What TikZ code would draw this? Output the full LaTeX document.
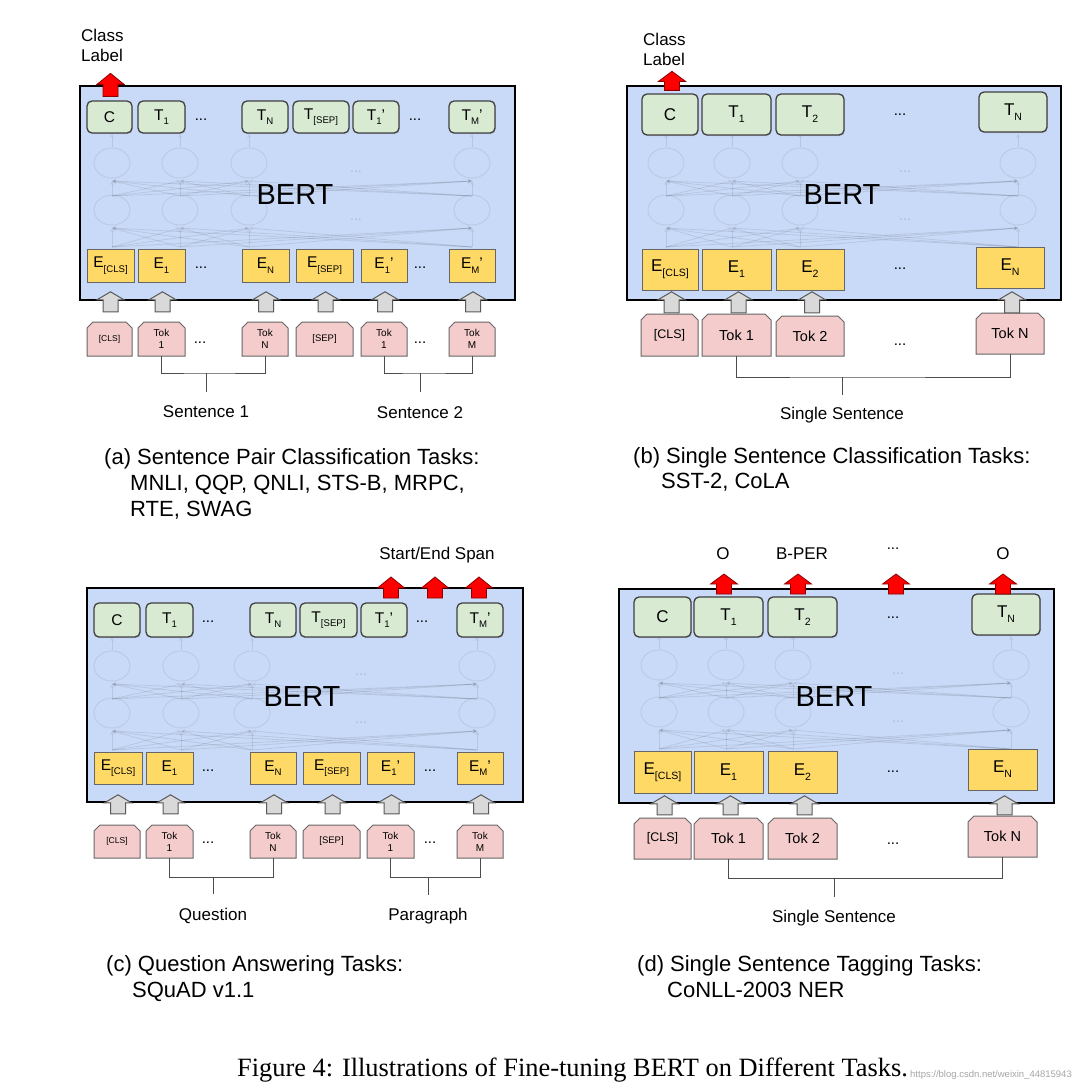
\documentclass[tikz,border=0pt]{standalone}
\usepackage{fontspec}
\setmainfont{Liberation Sans}
\newfontfamily\capfont{Liberation Serif}
\usetikzlibrary{calc,shadows}
\definecolor{bertblue}{HTML}{C9DAF8}
\definecolor{tgreen}{HTML}{D9EAD3}
\definecolor{eyellow}{HTML}{FFD966}
\definecolor{tpink}{HTML}{F4CCCC}
\definecolor{agray}{HTML}{D9D9D9}
\newcommand\fs[1]{\fontsize{#1}{#1}\selectfont}
\newcommand\fsb[2]{\fontsize{#1}{#2}\selectfont}
\newcommand\sbs[1]{\raisebox{-0.3em}{\scalebox{0.62}{#1}}}
% style, name, x1, y1, x2, y2, text
\newcommand\boxat[7]{\node[#1, minimum width={#5-#3}, minimum height={#6-#4}] (#2) at ({(#3+#5)/2},{(#4+#6)/2}) {#7};}
% [style], name, x1, y1, x2, y2, text
\newcommand\tokat[7][]{%
  \filldraw[tokline] (#3,#6) -- (#3,#4+6) -- (#3+6,#4) -- (#5-6,#4) -- (#5,#4+6) -- (#5,#6) -- cycle;
  \boxat{tokn,#1}{#2}{#3}{#4}{#5}{#6}{#7}}
% style, bottom-centre point (calc expr), length, head height
\newcommand\blockat[4]{\draw[#1] ($#2+(-7.5,0)$) -- ++(0,{-(#3-#4)}) -- ++(-6,0) -- ++(13.5,-#4) -- ++(13.5,#4) -- ++(-6,0) -- ++(0,{#3-#4}) -- cycle;}
% prefix, c1..c4, y offset, dots x
\newcommand\net[7]{%
  \begin{scope}[shift={(0,#6)}]
  \foreach \xa in {#2,#3,#4,#5}{
    \draw[netc] (\xa,163) ellipse [x radius=18, y radius=15];
    \draw[netc] (\xa,210) ellipse [x radius=18, y radius=15];
    \draw[netl] (\xa,147) -- (\xa,134);
    \foreach \xb in {#2,#3,#4,#5}{
      \draw[netl] (\xa,196) -- (\xb,181);
      \draw[netl] (\xa,247) -- (\xb,228);
    }
  }
  \node[netd] (#1-nd1) at (#7,172) {...};
  \node[netd] (#1-nd2) at (#7,220) {...};
  \end{scope}}
\tikzset{
  bertbox/.style={fill=bertblue, draw=black, line width=2.6, inner sep=0},
  tbox/.style={fill=tgreen, draw=black!75, line width=1.3, rounded corners=5, inner sep=0,
    drop shadow={shadow xshift=0.8pt, shadow yshift=-1.2pt, opacity=0.3}},
  ebox/.style={fill=eyellow, draw=black!60, line width=1, inner sep=0},
  tokline/.style={fill=tpink, draw=black!60, line width=1},
  tokn/.style={inner sep=0, align=center},
  garrow/.style={fill=agray, draw=black!65, line width=1},
  rarrow/.style={fill=red, draw=red!55!black, line width=0.8},
  netc/.style={draw=black, opacity=0.07, line width=1},
  netl/.style={draw=black, opacity=0.09, line width=0.8, -stealth},
  netd/.style={inner sep=0, text opacity=0.15, font=\fs{14}},
  brk/.style={draw=black!70, line width=1},
  lbl/.style={font=\fs{17}, inner sep=0},
  bert/.style={font=\fs{29}, inner sep=0},
  sm/.style={font=\fs{15.5}},
  md/.style={font=\fs{17}},
  dsm/.style={font=\fs{15}, inner sep=0},
  tka/.style={font=\fsb{10}{12}},
  tkb/.style={font=\fs{14.5}},
  captxt/.style={font=\fs{22}, inner sep=0, anchor=base west},
}
\begin{document}
\begin{tikzpicture}[x=1pt,y=-1pt]
\useasboundingbox (0,0) rectangle (1080,1092);
\path[fill=white] (0,0) rectangle (1080,1092);

%%%%%%%%%%%%%%%% (a)
\boxat{bertbox}{a-box}{80}{86}{515}{300}{}
\net{a}{112}{180}{249}{472}{0}{356}
\node[bert] (a-bert) at (295,195) {BERT};
\boxat{tbox,sm}{a-c}{87}{101}{132}{133}{C}
\boxat{tbox,sm}{a-t1}{138}{101}{185}{133}{T\sbs{1}}
\node[dsm] (a-td1) at (201,120) {...};
\boxat{tbox,sm}{a-tn}{242}{101}{288}{133}{T\sbs{N}}
\boxat{tbox,sm}{a-tsep}{293}{101}{349}{133}{T\sbs{[SEP]}}
\boxat{tbox,sm}{a-t1p}{353}{101}{399}{133}{T\sbs{1}'}
\node[dsm] (a-td2) at (415,120) {...};
\boxat{tbox,sm}{a-tm}{449}{101}{495}{133}{T\sbs{M}'}
\boxat{ebox,sm}{a-ecls}{87}{249}{134}{282}{E\sbs{[CLS]}}
\boxat{ebox,sm}{a-e1}{138}{249}{185}{282}{E\sbs{1}}
\node[dsm] (a-ed1) at (201,268) {...};
\boxat{ebox,sm}{a-en}{242}{249}{289}{282}{E\sbs{N}}
\boxat{ebox,sm}{a-esep}{296}{249}{353}{282}{E\sbs{[SEP]}}
\boxat{ebox,sm}{a-e1p}{361}{249}{407}{282}{E\sbs{1}'}
\node[dsm] (a-ed2) at (420,268) {...};
\boxat{ebox,sm}{a-em}{449}{249}{495}{282}{E\sbs{M}'}
\tokat[font=\fs{8.5}]{a-kcls}{87}{322}{132}{356}{[CLS]}
\tokat[tka]{a-k1}{138}{322}{185}{356}{Tok\\1}
\node[dsm] (a-kd1) at (200,343) {...};
\tokat[tka]{a-kn}{242}{322}{288}{356}{Tok\\N}
\tokat[font=\fs{9.5}]{a-ksep}{296}{322}{353}{356}{[SEP]}
\tokat[tka]{a-k1p}{361}{322}{407}{356}{Tok\\1}
\node[dsm] (a-kd2) at (420,343) {...};
\tokat[tka]{a-km}{449}{322}{495}{356}{Tok\\M}
\foreach \n in {kcls,k1,kn,ksep,k1p,km}{\blockat{garrow}{(a-\n.north)+(1,-10)}{20}{8}}
\blockat{rarrow}{(a-c.north)+(1,-4)}{23}{11}
\node[lbl, anchor=base west] (a-cl1) at (81,41.7) {Class};
\node[lbl, anchor=base west] (a-cl2) at (81,61) {Label};
\coordinate (a-b1) at (206,373);
\draw[brk] (a-k1.south) |- (a-b1) -| (a-kn.south);
\draw[brk] (a-b1) -- ++(0,19);
\node[lbl, anchor=base] (a-s1) at (206,417) {Sentence 1};
\coordinate (a-b2) at (420,373);
\draw[brk] (a-k1p.south) |- (a-b2) -| (a-km.south);
\draw[brk] (a-b2) -- ++(0,19);
\node[lbl, anchor=base] (a-s2) at (420,418) {Sentence 2};
\node[captxt] (a-cap1) at (104,464.3) {(a) Sentence Pair Classification Tasks:};
\node[captxt] (a-cap2) at (130,490.5) {MNLI, QQP, QNLI, STS-B, MRPC,};
\node[captxt] (a-cap3) at (130,516.7) {RTE, SWAG};

%%%%%%%%%%%%%%%% (b)
\boxat{bertbox}{b-box}{627}{86}{1061}{300}{}
\net{b}{666}{732}{800}{1018}{0}{905}
\node[bert] (b-bert) at (842,195) {BERT};
\boxat{tbox,md}{b-c}{642}{94}{698}{135}{C}
\boxat{tbox,md}{b-t1}{702}{94}{771}{135}{T\sbs{1}}
\boxat{tbox,md}{b-t2}{776}{94}{844}{135}{T\sbs{2}}
\node[dsm] (b-td) at (900,115) {...};
\boxat{tbox,md}{b-tn}{979}{92}{1047}{132}{T\sbs{N}}
\boxat{ebox,md}{b-ecls}{642}{249}{698}{290}{E\sbs{[CLS]}}
\boxat{ebox,md}{b-e1}{702}{249}{771}{290}{E\sbs{1}}
\boxat{ebox,md}{b-e2}{776}{249}{844}{290}{E\sbs{2}}
\node[dsm] (b-ed) at (900,269) {...};
\boxat{ebox,md}{b-en}{976}{247}{1044}{288}{E\sbs{N}}
\tokat[font=\fs{12.5}]{b-kcls}{641}{314}{698}{356}{[CLS]}
\tokat[tkb]{b-k1}{702}{314}{771}{356}{Tok 1}
\tokat[tkb]{b-k2}{776}{316}{844}{356}{Tok 2}
\node[dsm] (b-kd) at (900,345) {...};
\tokat[tkb]{b-kn}{976}{313}{1044}{354}{Tok N}
\blockat{garrow}{(b-kcls.north)+(2,-1)}{21}{8}
\blockat{garrow}{(b-k1.north)+(2,-1)}{21}{8}
\blockat{garrow}{(b-k2.north)+(2,-3)}{21}{8}
\blockat{garrow}{(b-kn.north)+(2,0)}{21}{8}
\blockat{rarrow}{(b-c.north)+(2,-3)}{19}{10}
\node[lbl, anchor=base west] (b-cl1) at (643,45.7) {Class};
\node[lbl, anchor=base west] (b-cl2) at (643,65) {Label};
\coordinate (b-b1) at (842,377);
\draw[brk] (b-k1.south) |- (b-b1) -| (b-kn.south);
\draw[brk] (b-b1) -- ++(0,18);
\node[lbl, anchor=base] (b-s1) at (842,419) {Single Sentence};
\node[captxt] (b-cap1) at (633,463.3) {(b) Single Sentence Classification Tasks:};
\node[captxt] (b-cap2) at (661,488.8) {SST-2, CoLA};

%%%%%%%%%%%%%%%% (c)
\boxat{bertbox}{c-box}{87}{588}{523}{802}{}
\net{c}{112}{181}{252}{477}{503}{361}
\node[bert] (c-bert) at (302,697) {BERT};
\boxat{tbox,sm}{c-c}{94}{603}{140}{637}{C}
\boxat{tbox,sm}{c-t1}{146}{603}{193}{637}{T\sbs{1}}
\node[dsm] (c-td1) at (208,622) {...};
\boxat{tbox,sm}{c-tn}{250}{603}{296}{637}{T\sbs{N}}
\boxat{tbox,sm}{c-tsep}{300}{603}{357}{637}{T\sbs{[SEP]}}
\boxat{tbox,sm}{c-t1p}{361}{603}{407}{637}{T\sbs{1}'}
\node[dsm] (c-td2) at (422,622) {...};
\boxat{tbox,sm}{c-tm}{457}{603}{503}{637}{T\sbs{M}'}
\boxat{ebox,sm}{c-ecls}{94}{752}{142}{784}{E\sbs{[CLS]}}
\boxat{ebox,sm}{c-e1}{146}{752}{193}{784}{E\sbs{1}}
\node[dsm] (c-ed1) at (208,771) {...};
\boxat{ebox,sm}{c-en}{250}{752}{296}{784}{E\sbs{N}}
\boxat{ebox,sm}{c-esep}{303}{752}{360}{784}{E\sbs{[SEP]}}
\boxat{ebox,sm}{c-e1p}{367}{752}{414}{784}{E\sbs{1}'}
\node[dsm] (c-ed2) at (430,771) {...};
\boxat{ebox,sm}{c-em}{457}{752}{503}{784}{E\sbs{M}'}
\tokat[font=\fs{8.5}]{c-kcls}{94}{825}{140}{858}{[CLS]}
\tokat[tka]{c-k1}{146}{825}{193}{858}{Tok\\1}
\node[dsm] (c-kd1) at (208,843) {...};
\tokat[tka]{c-kn}{250}{825}{296}{858}{Tok\\N}
\tokat[font=\fs{9.5}]{c-ksep}{303}{825}{360}{858}{[SEP]}
\tokat[tka]{c-k1p}{367}{825}{414}{858}{Tok\\1}
\node[dsm] (c-kd2) at (430,843) {...};
\tokat[tka]{c-km}{457}{825}{503}{858}{Tok\\M}
\foreach \n in {kcls,k1,kn,ksep,k1p,km}{\blockat{garrow}{(c-\n.north)+(1,-11)}{19}{8}}
\coordinate (c-r1) at (391,598);
\coordinate (c-r2) at (435,598);
\coordinate (c-r3) at (479,598);
\foreach \n in {r1,r2,r3}{\blockat{rarrow}{(c-\n)}{21}{11}}
\node[lbl, anchor=base] (c-span) at (437,559) {Start/End Span};
\coordinate (c-b1) at (213,877);
\draw[brk] (c-k1.south) |- (c-b1) -| (c-kn.south);
\draw[brk] (c-b1) -- ++(0,17);
\node[lbl, anchor=base] (c-s1) at (213,920) {Question};
\coordinate (c-b2) at (428,877);
\draw[brk] (c-k1p.south) |- (c-b2) -| (c-km.south);
\draw[brk] (c-b2) -- ++(0,18);
\node[lbl, anchor=base] (c-s2) at (428,920.7) {Paragraph};
\node[captxt] (c-cap1) at (106,971.7) {(c) Question Answering Tasks:};
\node[captxt] (c-cap2) at (132,997.7) {SQuAD v1.1};

%%%%%%%%%%%%%%%% (d)
\boxat{bertbox}{d-box}{619}{589}{1054}{803}{}
\net{d}{659}{726}{793}{1011}{502}{898}
\node[bert] (d-bert) at (834,697) {BERT};
\boxat{tbox,md}{d-c}{634}{597}{691}{637}{C}
\boxat{tbox,md}{d-t1}{694}{597}{763}{637}{T\sbs{1}}
\boxat{tbox,md}{d-t2}{768}{597}{837}{637}{T\sbs{2}}
\node[dsm] (d-td) at (893,618) {...};
\boxat{tbox,md}{d-tn}{972}{594}{1040}{635}{T\sbs{N}}
\boxat{ebox,md}{d-ecls}{634}{751}{691}{793}{E\sbs{[CLS]}}
\boxat{ebox,md}{d-e1}{694}{751}{763}{793}{E\sbs{1}}
\boxat{ebox,md}{d-e2}{768}{751}{837}{793}{E\sbs{2}}
\node[dsm] (d-ed) at (893,772) {...};
\boxat{ebox,md}{d-en}{968}{749}{1037}{790}{E\sbs{N}}
\tokat[font=\fs{12.5}]{d-kcls}{634}{818}{691}{859}{[CLS]}
\tokat[tkb]{d-k1}{694}{818}{763}{859}{Tok 1}
\tokat[tkb]{d-k2}{768}{818}{837}{859}{Tok 2}
\node[dsm] (d-kd) at (893,844) {...};
\tokat[tkb]{d-kn}{968}{816}{1037}{857}{Tok N}
\blockat{garrow}{(d-kcls.north)+(2,-3)}{19}{8}
\blockat{garrow}{(d-k1.north)+(2,-3)}{19}{8}
\blockat{garrow}{(d-k2.north)+(2,-3)}{19}{8}
\blockat{garrow}{(d-kn.north)+(2,-1)}{19}{8}
\coordinate (d-r1) at (724,594);
\coordinate (d-r2) at (798,594);
\coordinate (d-r3) at (896,594);
\coordinate (d-r4) at (1003,594);
\foreach \n in {r1,r2,r3,r4}{\blockat{rarrow}{(d-\n)}{20}{10}}
\node[lbl, anchor=base] (d-o1) at (723,559.3) {O};
\node[lbl, anchor=base] (d-bper) at (802,559.3) {B-PER};
\node[dsm] (d-od) at (893,549) {...};
\node[lbl, anchor=base] (d-o2) at (1003,559.3) {O};
\coordinate (d-b1) at (834,878);
\draw[brk] (d-k1.south) |- (d-b1) -| (d-kn.south);
\draw[brk] (d-b1) -- ++(0,19);
\node[lbl, anchor=base] (d-s1) at (834,922.7) {Single Sentence};
\node[captxt] (d-cap1) at (637,971.5) {(d) Single Sentence Tagging Tasks:};
\node[captxt] (d-cap2) at (667,997.5) {CoNLL-2003 NER};

%%%%%%%%%%%%%%%% figure caption
\node[inner sep=0, anchor=base, font=\capfont\fs{26.4}] (figcap) at (572.5,1076) {Figure 4: Illustrations of Fine-tuning BERT on Different Tasks.};
\node[inner sep=0, anchor=base east, font=\fs{9.5}, text=black!35] (wm) at (1072,1077) {https://blog.csdn.net/weixin\_44815943};
\end{tikzpicture}
\end{document}
